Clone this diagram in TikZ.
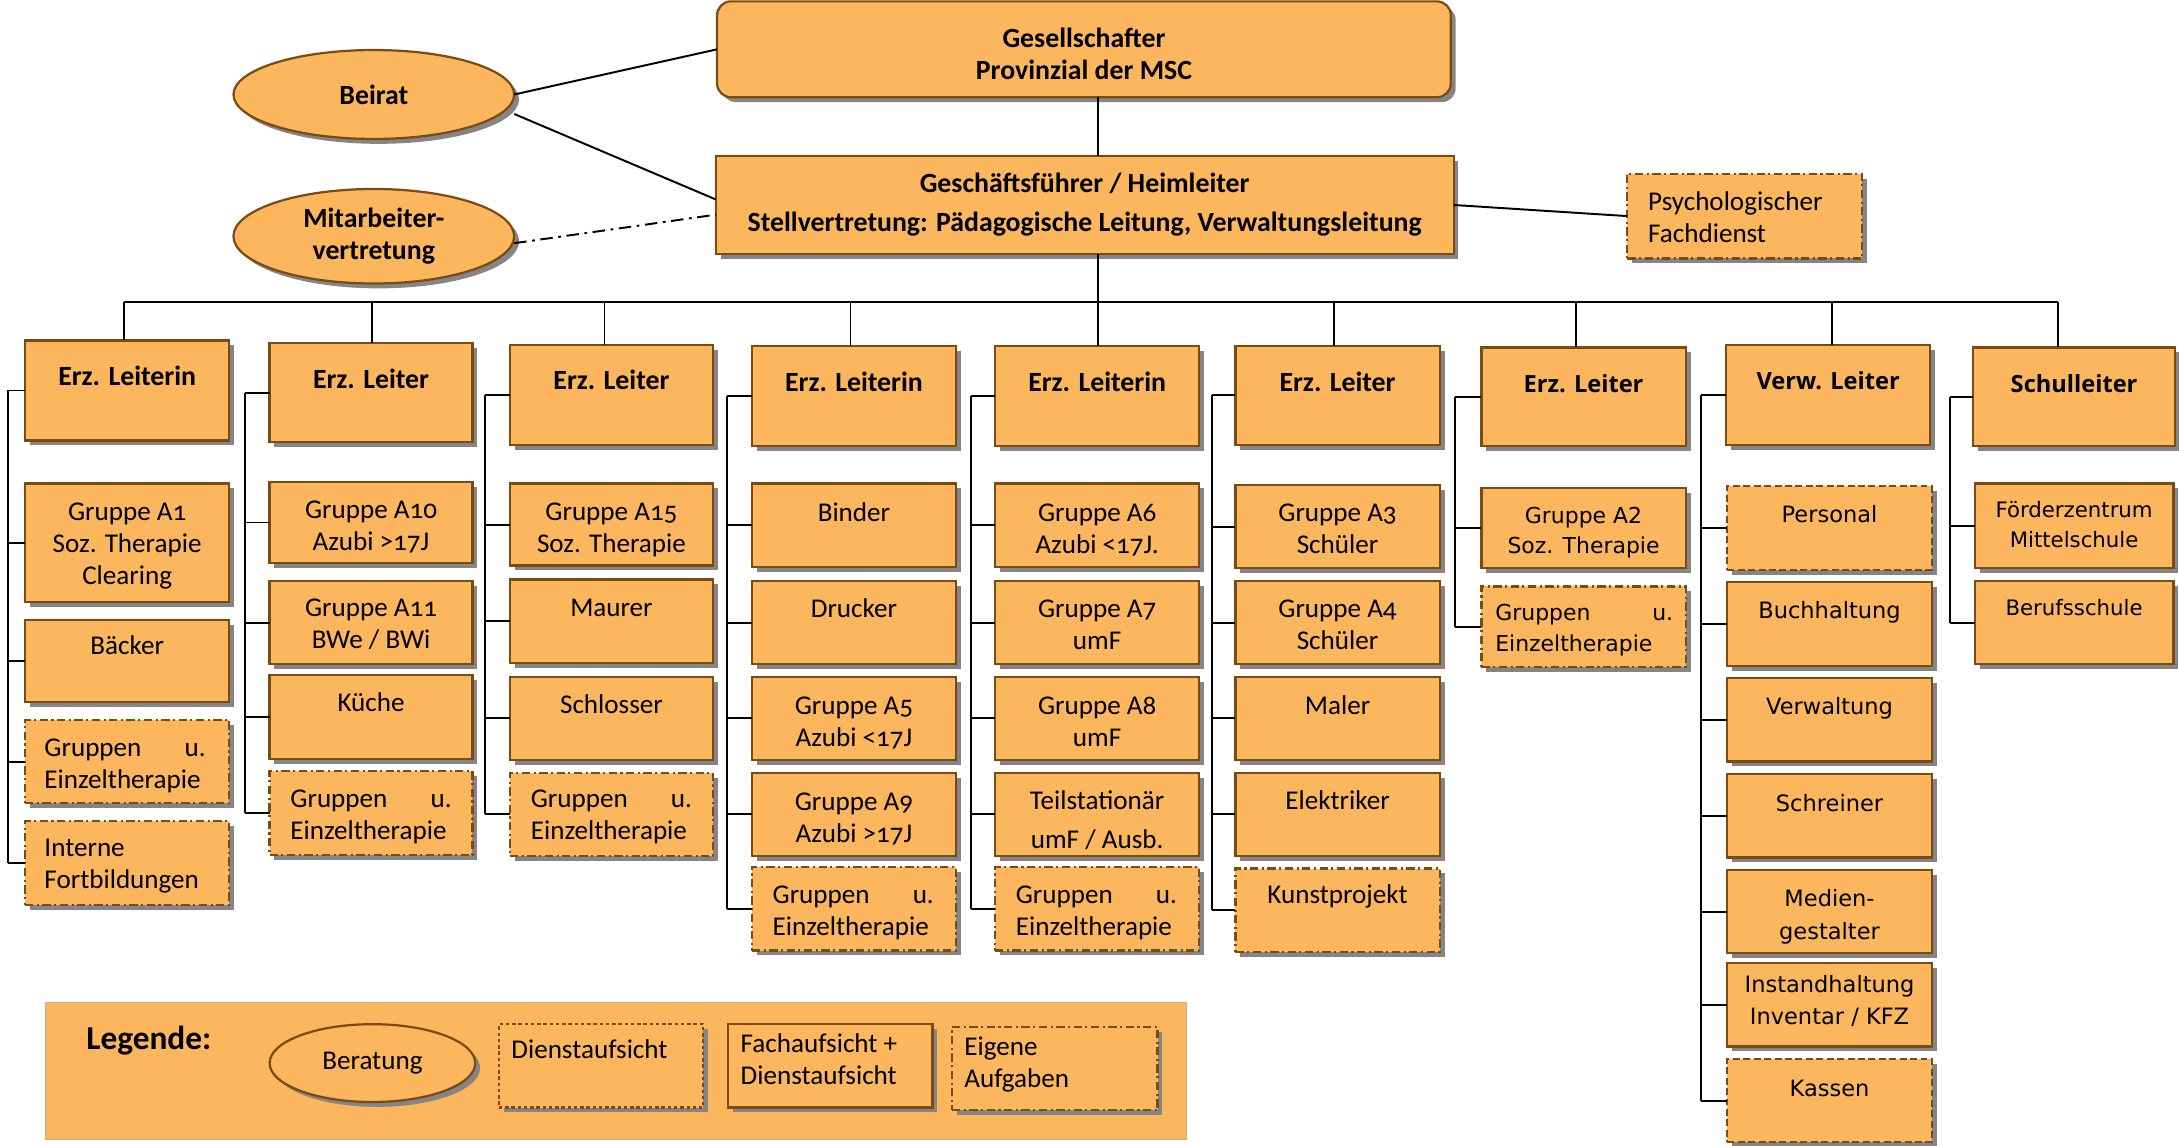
\documentclass[tikz,border=0pt]{standalone}
\usepackage{fontspec}
\setmainfont{Carlito}[Numbers=OldStyle]
\newfontfamily\dfont{DejaVu Sans}
\newfontfamily\ofont{Open Sans}
\usetikzlibrary{shapes.geometric,shadows}
\definecolor{orng}{HTML}{FBB65E}
\definecolor{brd}{HTML}{7B4B12}
\definecolor{shd}{HTML}{858585}
\tikzset{
 obox/.style={draw=brd, line width=1.6pt, fill=orng, inner sep=0pt, outer sep=0pt,
   drop shadow={shadow xshift=3.5pt,shadow yshift=-3.5pt,fill=shd,opacity=1}},
 dd/.style={dash pattern=on 6pt off 2.5pt on 1.5pt off 2.5pt},
 dsh/.style={dash pattern=on 5pt off 2.5pt},
 dt/.style={dash pattern=on 2.5pt off 2pt},
 mdd/.style={dash pattern=on 9pt off 4pt on 2pt off 4pt},
 con/.style={line width=1.4pt, draw=black},
 tc/.style={font=\fontsize{19.5}{23}\selectfont, align=center, inner sep=0pt, outer sep=0pt},
 tcl/.style={tc, align=left},
 tb/.style={font=\fontsize{20}{23}\selectfont\bfseries, align=center, inner sep=0pt, outer sep=0pt},
 th/.style={font=\fontsize{20}{24}\selectfont\bfseries, align=center, inner sep=0pt, outer sep=0pt},
 tho/.style={font=\ofont\fontsize{17}{21}\selectfont\bfseries, align=center, inner sep=0pt, outer sep=0pt},
 td/.style={font=\dfont\fontsize{16.2}{23}\selectfont, align=center, inner sep=0pt, outer sep=0pt},
 td7/.style={font=\dfont\fontsize{15.8}{22}\selectfont, align=center, inner sep=0pt, outer sep=0pt},
 td9/.style={font=\dfont\fontsize{15.3}{22}\selectfont, align=center, inner sep=0pt, outer sep=0pt},
}
% name, box style, text style, x1, y1, x2, y2, text offset, text
\newcommand\cbox[9]{%
 \node[obox,#2,minimum width={(#6-#4)*1pt},minimum height={(#7-#5)*1pt},anchor=north west] (#1) at (#4,#5) {};
 \node[#3,anchor=north] (#1t) at ([yshift={-#8pt}]#1.north) {\rule{0pt}{0.75em}#9};}
\newcommand\lbox[9]{%
 \node[obox,#2,minimum width={(#6-#4)*1pt},minimum height={(#7-#5)*1pt},anchor=north west] (#1) at (#4,#5) {};
 \node[#3,anchor=north west] (#1t) at ([yshift={-#8pt}]#1.north west) {\rule{0pt}{0.75em}#9};}
\begin{document}
\begin{tikzpicture}[x=1pt,y=-1pt]
\useasboundingbox (0,0) rectangle (1568,824);

% top
\cbox{gs}{rounded corners=10pt}{tb}{516}{1}{1044}{70}{18.4}{Gesellschafter\\Provinzial der MSC}
\cbox{gf}{}{tb}{515}{112}{1046}{183}{11.4}{Geschäftsführer / Heimleiter\\[5pt]Stellvertretung: Pädagogische Leitung, Verwaltungsleitung}
\lbox{psych}{dd}{tcl,xshift=15pt}{1171}{125}{1340}{186}{11.7}{Psychologischer\\Fachdienst}
\node[obox,ellipse,minimum width=202pt,minimum height=64pt,tb] (beirat) at (269,68) {Beirat};
\node[obox,ellipse,minimum width=202pt,minimum height=68pt,tb] (mav) at (269,170) {Mitarbeiter-\\vertretung};

% headers
\cbox{h1}{}{th}{18}{245}{165}{317}{17.4}{Erz. Leiterin}
\cbox{h2}{}{th}{194}{247}{340}{318}{17.4}{Erz. Leiter}
\cbox{h3}{}{th}{367}{248}{513}{320}{17.4}{Erz. Leiter}
\cbox{h4}{}{th}{541}{249}{688}{321}{17.4}{Erz. Leiterin}
\cbox{h5}{}{th}{716}{249}{863}{321}{17.4}{Erz. Leiterin}
\cbox{h6}{}{th}{889}{249}{1036}{320}{17.4}{Erz. Leiter}
\cbox{h7}{}{tho}{1066}{250}{1213}{321}{19.3}{Erz. Leiter}
\cbox{h8}{}{tho}{1242}{248}{1389}{320}{19.3}{Verw. Leiter}
\cbox{h9}{}{tho}{1420}{250}{1565}{321}{19.3}{Schulleiter}

% column 1
\cbox{a1}{}{tc}{18}{348}{165}{433}{11.7}{Gruppe A1\\Soz. Therapie\\Clearing}
\cbox{baecker}{}{tc}{18}{446}{165}{505}{10.7}{Bäcker}
\lbox{g1}{dd}{tcl,xshift=14pt}{18}{518}{165}{578}{11.7}{\hbox to 116pt{Gruppen\hfill u.}\\Einzeltherapie}
\lbox{interne}{dd}{tcl,xshift=14pt}{18}{591}{165}{651}{10.7}{Interne\\Fortbildungen}
% column 2
\cbox{a10}{}{tc}{194}{347}{340}{405}{11.7}{Gruppe A10\\Azubi >17J}
\cbox{a11}{}{tc}{194}{418}{340}{478}{10.7}{Gruppe A11\\BWe / BWi}
\cbox{kueche}{}{tc}{194}{486}{340}{546}{11.7}{Küche}
\lbox{g2}{dd}{tcl,xshift=15pt}{194}{555}{340}{615}{11.7}{\hbox to 116pt{Gruppen\hfill u.}\\Einzeltherapie}
% column 3
\cbox{a15}{}{tc}{367}{348}{513}{407}{11.7}{Gruppe A15\\Soz. Therapie}
\cbox{maurer}{}{tc}{367}{417}{513}{477}{11.7}{Maurer}
\cbox{schlosser}{}{tc}{367}{487}{513}{547}{11.7}{Schlosser}
\lbox{g3}{dd}{tcl,xshift=15pt}{367}{556}{513}{616}{10.7}{\hbox to 116pt{Gruppen\hfill u.}\\Einzeltherapie}
% column 4
\cbox{binder}{}{tc}{541}{348}{688}{408}{12.7}{Binder}
\cbox{drucker}{}{tc}{541}{418}{688}{478}{11.7}{Drucker}
\cbox{a5}{}{tc}{541}{487}{688}{547}{12.7}{Gruppe A5\\Azubi <17J}
\cbox{a9}{}{tc}{541}{556}{688}{616}{12.7}{Gruppe A9\\Azubi >17J}
\lbox{g4}{dd}{tcl,xshift=15pt}{541}{624}{688}{684}{11.7}{\hbox to 116pt{Gruppen\hfill u.}\\Einzeltherapie}
% column 5
\cbox{a6}{}{tc}{716}{348}{863}{408}{12.7}{Gruppe A6\\Azubi <17J.}
\cbox{a7}{}{tc}{716}{418}{863}{478}{11.7}{Gruppe A7\\umF}
\cbox{a8}{}{tc}{716}{487}{863}{547}{12.7}{Gruppe A8\\umF}
\cbox{teil}{}{tc}{716}{556}{863}{616}{11.7}{Teilstationär\\[5pt]umF / Ausb.}
\lbox{g5}{dd}{tcl,xshift=15pt}{716}{624}{863}{684}{11.7}{\hbox to 116pt{Gruppen\hfill u.}\\Einzeltherapie}
% column 6
\cbox{a3}{}{tc}{889}{349}{1036}{409}{11.7}{Gruppe A3\\Schüler}
\cbox{a4}{}{tc}{889}{418}{1036}{478}{11.7}{Gruppe A4\\Schüler}
\cbox{maler}{}{tc}{889}{487}{1036}{547}{12.7}{Maler}
\cbox{elektriker}{}{tc}{889}{556}{1036}{616}{11.7}{Elektriker}
\cbox{kunst}{dd}{tc}{889}{625}{1036}{685}{10.7}{Kunstprojekt}
% column 7
\cbox{a2}{}{td7}{1066}{351}{1213}{409}{13.8}{Gruppe A2\\Soz. Therapie}
\lbox{g7}{dd}{td7,align=left,xshift=10pt}{1066}{422}{1213}{480}{12.8}{\hbox to 128pt{Gruppen\hfill u.}\\Einzeltherapie}
% column 8
\cbox{personal}{dsh}{td}{1243}{350}{1390}{410}{13.8}{Personal}
\cbox{buch}{}{td}{1243}{419}{1390}{479}{13.8}{Buchhaltung}
\cbox{verw}{}{td}{1243}{488}{1390}{548}{13.8}{Verwaltung}
\cbox{schreiner}{}{td}{1243}{557}{1390}{617}{14.8}{Schreiner}
\cbox{medien}{}{td}{1243}{626}{1390}{686}{13.8}{Medien-\\[1pt]gestalter}
\cbox{instand}{}{td}{1243}{693}{1390}{753}{8.8}{Instandhaltung\\Inventar / KFZ}
\cbox{kassen}{dsh}{td}{1243}{762}{1390}{822}{14.8}{Kassen}
% column 9
\cbox{foerder}{}{td9}{1421}{348}{1564}{409}{12.5}{Förderzentrum\\Mittelschule}
\cbox{berufs}{}{td9}{1421}{418}{1564}{478}{13.2}{Berufsschule}

% connectors top
\draw[con] (beirat.east) -- (gs.west);
\draw[con] ([yshift=-14pt]beirat.east) -- ([yshift=4pt]gf.west);
\draw[con,mdd] ([yshift=-5pt]mav.east) -- ([yshift=-7pt]gf.west);
\coordinate (tk) at (790,217);
\draw[con] (tk |- gs.south) -- (tk |- gf.north);
\draw[con] (tk |- gf.south) -- (tk);
\draw[con] (gf.east) -- (psych.west);
\coordinate (busL) at (89,217);
\coordinate (busR) at (1481,217);
\draw[con] (busL) -- (busR);
\foreach \i/\x in {1/89,2/268,3/435,4/612,5/790,6/960,7/1134,8/1318,9/1481}{
  \coordinate (d\i) at (\x,217);
  \draw[con] (d\i) -- (d\i |- h\i.north);
}
% brackets
\foreach \i/\x/\l in {1/6/interne,2/176/g2,3/349/g3,4/523/g4,5/699/g5,6/872/kunst,7/1047/g7,8/1224/kassen,9/1403/berufs}{
  \coordinate (b\i) at (\x,0);
  \draw[con] (b\i |- h\i.west) -- (b\i |- \l.west);
}
\foreach \c in {h1,a1,baecker,g1,interne} \draw[con] (b1 |- \c.west) -- (\c.west);
\foreach \c in {h2,a10,a11,kueche,g2} \draw[con] (b2 |- \c.west) -- (\c.west);
\foreach \c in {h3,a15,maurer,schlosser,g3} \draw[con] (b3 |- \c.west) -- (\c.west);
\foreach \c in {h4,binder,drucker,a5,a9,g4} \draw[con] (b4 |- \c.west) -- (\c.west);
\foreach \c in {h5,a6,a7,a8,teil,g5} \draw[con] (b5 |- \c.west) -- (\c.west);
\foreach \c in {h6,a3,a4,maler,elektriker,kunst} \draw[con] (b6 |- \c.west) -- (\c.west);
\foreach \c in {h7,a2,g7} \draw[con] (b7 |- \c.west) -- (\c.west);
\foreach \c in {h8,personal,buch,verw,schreiner,medien,instand,kassen} \draw[con] (b8 |- \c.west) -- (\c.west);
\foreach \c in {h9,foerder,berufs} \draw[con] (b9 |- \c.west) -- (\c.west);

% legend
\node[fill=orng, draw=brd!45, line width=0.6pt, minimum width=821pt, minimum height=99pt, anchor=north west, inner sep=0pt, outer sep=0pt] (legbg) at (33,721) {};
\node[font=\fontsize{24}{28}\selectfont\bfseries, anchor=west, inner sep=0pt] (legt) at (62,749) {Legende:};
\node[obox,ellipse,minimum width=148pt,minimum height=56pt,tc] (lber) at (268,765) {Beratung};
\lbox{ldienst}{dt}{tcl,xshift=9pt}{359}{737}{506}{797}{9.7}{Dienstaufsicht}
\lbox{lfach}{}{tcl,xshift=9pt}{524}{737}{671}{797}{5.7}{Fachaufsicht +\\Dienstaufsicht}
\lbox{leigene}{dd}{tcl,xshift=9pt}{685}{739}{833}{799}{5.7}{Eigene\\Aufgaben}
\end{tikzpicture}
\end{document}
